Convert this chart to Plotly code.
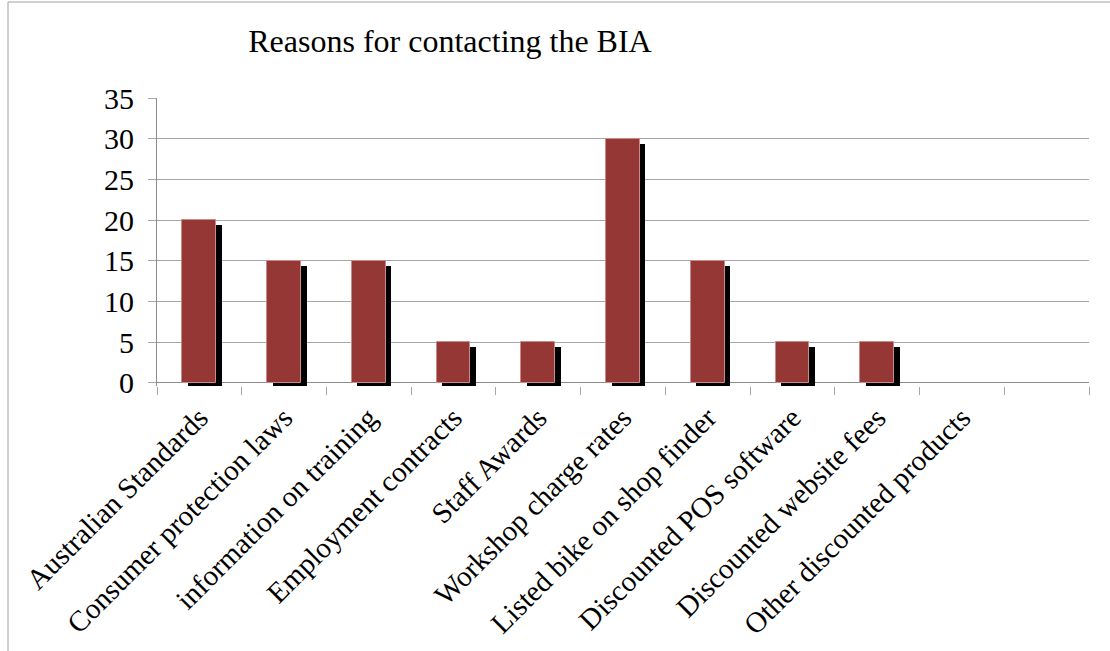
import plotly.graph_objects as go

categories = [
    "Australian Standards",
    "Consumer protection laws",
    "information on training",
    "Employment contracts",
    "Staff Awards",
    "Workshop charge rates",
    "Listed bike on shop finder",
    "Discounted POS software",
    "Discounted website fees",
    "Other discounted products",
]
values = [20, 15, 15, 5, 5, 30, 15, 5, 5, 0]
y_ticks = [0, 5, 10, 15, 20, 25, 30, 35]

W, H = 1110, 651
ML, MR, MT, MB = 157, 21, 98, 265
FONT = "Liberation Serif"
GRID = "#a6a6a6"

idx = list(range(len(categories)))

# shadow geometry (style offsets, in axis units)
sh_dx, sh_top, sh_base = 0.065, 0.6, -0.37
sh_x = [i + sh_dx for i, v in zip(idx, values) if v > 0]
sh_y = [v - sh_top - sh_base for v in values if v > 0]

fig = go.Figure()
fig.add_trace(go.Bar(
    x=sh_x, y=sh_y, base=sh_base, width=0.4,
    marker=dict(color="black", line=dict(width=0)),
    hoverinfo="skip", showlegend=False,
))
fig.add_trace(go.Bar(
    x=idx, y=values, width=0.4,
    marker=dict(color="#953735",
                line=dict(color="#c98a89", width=[1 if v > 0 else 0 for v in values])),
    showlegend=False,
))

plot_h = H - MT - MB
plot_w = W - ML - MR
fig.add_shape(
    type="rect", xref="paper", yref="paper",
    x0=(8 - ML) / plot_w, x1=1.1,
    y0=-1.2, y1=(plot_h + MT - 2) / plot_h,
    line=dict(color="#a0a0a0", width=1), fillcolor="rgba(0,0,0,0)", layer="below",
)

fig.update_layout(
    width=W, height=H,
    margin=dict(l=ML, r=MR, t=MT, b=MB, autoexpand=False),
    paper_bgcolor="white", plot_bgcolor="white",
    barmode="overlay",
    bargap=0,
    font=dict(family=FONT, color="black", size=29),
    title=dict(
        text="Reasons for contacting the BIA",
        font=dict(family=FONT, size=32, color="black"),
        x=450 / W, xanchor="center", xref="container",
        y=1 - 41 / H, yanchor="middle", yref="container",
    ),
    xaxis=dict(
        range=[-0.5, 10.5],
        tickmode="array", tickvals=idx, ticktext=categories,
        tickangle=-45, ticks="",
        ticklabelstandoff=8,
        tickfont=dict(family=FONT, size=29, color="black"),
        showgrid=False, zeroline=False, showline=False,
        minor=dict(ticks="outside", tick0=-0.5, dtick=1, ticklen=8,
                   tickcolor=GRID, tickwidth=1, showgrid=False),
        fixedrange=True,
    ),
    yaxis=dict(
        range=[-0.4, 35],
        tickmode="array", tickvals=y_ticks,
        ticks="outside", ticklen=8, tickcolor=GRID, tickwidth=1,
        ticklabelstandoff=8,
        tickfont=dict(family=FONT, size=30, color="black"),
        showgrid=True, gridcolor=GRID, gridwidth=1,
        zeroline=True, zerolinecolor="#8c8c8c", zerolinewidth=1,
        showline=True, linecolor="#8c8c8c", linewidth=1,
        fixedrange=True,
    ),
)

fig.write_html("out.html")
